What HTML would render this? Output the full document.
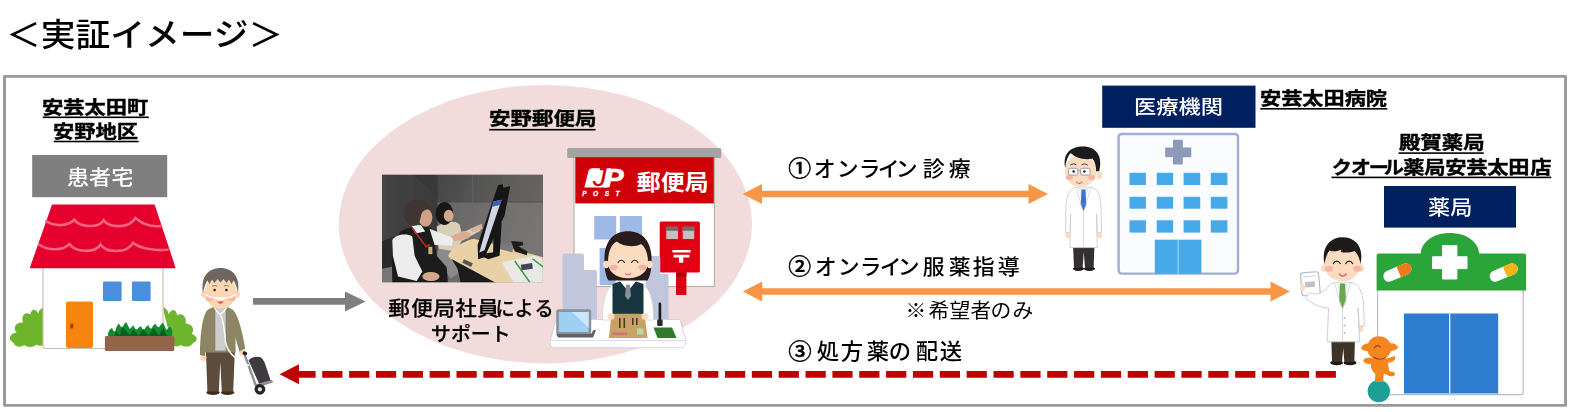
<!DOCTYPE html>
<html lang="ja">
<head>
<meta charset="utf-8">
<title>実証イメージ</title>
<style>
html,body{margin:0;padding:0;background:#fff;}
body{width:1572px;height:412px;overflow:hidden;position:relative;font-family:"Liberation Sans","Noto Sans CJK JP",sans-serif;color:#000;}
#stage{position:absolute;left:0;top:0;width:1572px;height:412px;overflow:hidden;}
#g{position:absolute;left:0;top:0;}
.t{position:absolute;white-space:nowrap;line-height:1;transform-origin:0 0;}
.b{font-weight:bold;-webkit-text-stroke:0.4px #000;}
.w{color:#fff;}
.k{display:inline-block;text-align:center;white-space:pre;transform-origin:50% 50%;}
</style>
</head>
<body>
<div id="stage">
<svg id="g" width="1572" height="412" viewBox="0 0 1572 412">
<!-- frame -->
<rect x="4.500" y="76.400" width="1561" height="329" fill="#fff" stroke="#999" stroke-width="2.900" stroke-linejoin="round"/>
<!-- ellipse -->
<ellipse cx="545.4" cy="224.2" rx="206.6" ry="139.2" fill="#f2dcdb"/>
<!-- arrows -->
<g id="arrows">
<path d="M253 301.400 H346" stroke="#7f7f7f" stroke-width="6.600" fill="none"/>
<path d="M345 291.500 L365.600 301.500 L345 311.500 Z" fill="#7f7f7f"/>
<path d="M761 194 H1029" stroke="#f79646" stroke-width="6.600" fill="none"/>
<path d="M762 184 L742.600 194 L762 204 Z" fill="#f79646"/>
<path d="M1028.500 184 L1048 194 L1028.500 204 Z" fill="#f79646"/>
<path d="M761 291.500 H1271" stroke="#f79646" stroke-width="6.600" fill="none"/>
<path d="M762.200 281.500 L742.800 291.500 L762.200 301.500 Z" fill="#f79646"/>
<path d="M1270.500 281.500 L1290 291.500 L1270.500 301.500 Z" fill="#f79646"/>
<path d="M1335.900 374.300 H298" stroke="#c00000" stroke-width="6.700" stroke-dasharray="20.200 6.650" fill="none"/>
<path d="M299 364.300 L279.500 374.300 L299 384.300 Z" fill="#c00000"/>
</g>
<!-- boxes -->
<rect x="32.200" y="155" width="135" height="42.200" fill="#7f7f7f"/>
<rect x="1102.200" y="85.600" width="153.300" height="42.200" fill="#002060"/>
<rect x="1384" y="186" width="132" height="41.600" fill="#002060"/>
<!-- underlines -->
<g fill="#000">
<rect x="42.700" y="116.500" width="106.100" height="1.600"/>
<rect x="53.800" y="140.700" width="84.800" height="1.600"/>
<rect x="489.200" y="128.900" width="106.400" height="1.600"/>
<rect x="1260.300" y="108" width="127" height="1.600"/>
<rect x="1398.500" y="152.300" width="85.300" height="1.600"/>
<rect x="1331.500" y="176.600" width="219.800" height="1.600"/>
</g>

<g id="house">
<!-- bushes -->
<path d="M43.7 307.3 C41.3 308.5 38.8 309.8 38.3 313.9 C36.4 308.5 31.1 308.1 30.3 314.6 C25.5 311.0 20.6 315.3 23.1 322.6 C17.0 321.9 12.1 326.7 16.5 332.8 C9.7 332.8 7.3 340.1 13.3 342.5 C14.6 346.9 20.6 347.9 24.3 345.0 C27.9 347.9 34.0 347.4 36.4 344.5 C38.8 346.4 41.7 345.9 43.7 345.0 C43.7 332.8 43.7 320.7 43.7 307.3 Z" fill="#6eb42c"/>
<path d="M163.1 307.3 C166.3 308.5 168.0 310.5 168.7 314.6 C171.1 308.5 176.0 308.5 177.2 315.3 C182.0 312.2 186.9 317.0 185.7 323.6 C191.7 323.6 195.4 329.2 191.7 334.0 C197.8 335.7 198.5 341.3 193.0 343.0 C190.5 347.4 184.5 347.4 180.8 345.0 C178.4 346.9 174.8 346.9 172.8 345.0 C169.9 332.8 165.0 320.7 163.1 307.3 Z" fill="#6eb42c"/>
<!-- wall -->
<rect x="43" y="262" width="120" height="86.5" rx="3" fill="#fff" stroke="#cdbfb0" stroke-width="1.2"/>
<!-- roof -->
<path d="M52.6 205.3 H154.1 L174.7 267.6 H30.7 Z" fill="#e6002d" stroke="#e6002d" stroke-width="1.5" stroke-linejoin="round"/>
<path d="M46.4 221.4 C56 227 68 226 74.3 219.8 C79 227 98 229 103.6 220.2 C109 228 129 229 135.5 218 C142 224 152 227 161.3 226" fill="none" stroke="#f2647e" stroke-width="2.6" stroke-linecap="round"/>
<path d="M39 244.5 C48 251 63 251 69.5 244 C75 252 95 254 100.5 244.5 C106 253 127 254 133 242.9 C141 249 156 251 167.5 249.7" fill="none" stroke="#f2647e" stroke-width="2.6" stroke-linecap="round"/>
<!-- windows -->
<rect x="103" y="281.5" width="18.6" height="19.6" rx="1" fill="#4a8fdc"/>
<rect x="132" y="281.5" width="18.6" height="19.6" rx="1" fill="#4a8fdc"/>
<!-- door -->
<rect x="66" y="301.5" width="27" height="46.5" rx="2" fill="#f5850e"/>
<ellipse cx="71.8" cy="326" rx="1.8" ry="2.8" fill="#9b4a1c"/>
<!-- plants -->
<path d="M108.0 337.2 C107.5 332.8 109.2 329.2 112.1 328.0 Q113.6 332.3 115.3 331.4 Q116.5 325.5 118.9 323.6 Q120.9 328.0 122.6 327.0 Q123.8 323.8 126.2 321.9 Q128.2 326.3 129.9 328.9 Q131.1 327.5 133.5 325.5 Q135.4 329.9 137.1 329.4 Q138.3 328.0 140.8 326.0 Q142.7 330.4 144.4 329.4 Q145.6 327.0 148.1 325.0 Q150.0 329.4 151.7 328.4 Q152.9 325.5 155.3 323.6 Q157.3 328.0 159.2 327.0 Q160.7 324.6 163.1 322.6 Q165.0 327.0 166.5 330.1 Q167.5 328.7 169.9 326.7 C172.8 329.2 172.8 334.0 171.8 337.2 Z" fill="#128a2e"/>
<path d="M114.1 337.2 L116.0 330.4 L119.4 335.7 L122.6 326.7 L129.9 335.2 L133.0 329.2 L138.8 335.7 L143.2 329.2 L148.5 335.7 L153.4 328.0 L159.0 335.7 L163.1 327.5 L167.5 337.2 Z" fill="#0a5f20"/>
<rect x="104.9" y="336.0" width="69.4" height="15.0" rx="1.5" fill="#93644a"/>
</g>

<g id="oldman">
<!-- cart -->
<path d="M244.6 354.6 L256 386" stroke="#8e9096" stroke-width="2.4" fill="none" stroke-linecap="round"/>
<path d="M248.6 360.5 C250 357.5 258 355.5 261 357.5 C263 359 264.5 362 265.5 365 L270.8 381 L259.5 384.5 Z" fill="#3e3a3f"/>
<path d="M255.5 384.6 L272 379.8 L273 382.6 L257 387.6 Z" fill="#8e9096"/>
<circle cx="259.9" cy="389.3" r="5.4" fill="#26242a"/>
<circle cx="259.9" cy="389.3" r="2.1" fill="#e6e6e6"/>
<!-- shoes -->
<ellipse cx="213" cy="392.4" rx="6.6" ry="2.5" fill="#3f2d20"/>
<ellipse cx="227.6" cy="392.4" rx="6.6" ry="2.5" fill="#3f2d20"/>
<!-- pants -->
<path d="M205.8 349 H234.9 L233.2 391.6 H221.8 L220.3 362 L218.8 391.6 H207.4 Z" fill="#5d4c3c"/>
<!-- hands -->
<ellipse cx="203.4" cy="357.6" rx="3" ry="3.6" fill="#fbd7b4"/>
<ellipse cx="242.4" cy="352.4" rx="3.3" ry="3.3" fill="#fbd7b4"/>
<rect x="242.6" y="351.6" width="4.6" height="3.6" rx="1.6" fill="#222" transform="rotate(20 244.9 353.4)"/>
<!-- neck -->
<rect x="215" y="303" width="11" height="8" fill="#f6c9a2"/>
<!-- jacket -->
<path d="M206.5 311 C210 307.5 214 307 216 307 L220.5 312 L225 307 C227 307 231 307.5 234 311 C239.500 318 243.500 338 245.200 348.600 L239.600 351.600 L235.400 338 L235.700 352.400 H205 L205.500 338 L205 356 L200 355 C200 340 201.500 319 206.500 311 Z" fill="#8c8664"/>
<!-- shirt -->
<path d="M215 308.500 H226 V350.600 H215 Z" fill="#cdcdcd"/>
<path d="M215 308.500 V350.600 M226 308.500 V350.600" stroke="#7d7759" stroke-width="0.600"/>
<!-- tube -->
<path d="M213 300 C213 308 217 312 220 314.500 C223.500 318 224.500 332 225.500 342 C227.500 353 238 362 249 365.500" fill="none" stroke="#fff" stroke-width="1.400"/>
<path d="M228 300 C228 308 224 312 220 314.500" fill="none" stroke="#fff" stroke-width="1.400"/>
<!-- head -->
<ellipse cx="203.900" cy="294.300" rx="2.700" ry="3.600" fill="#fbd7b4"/>
<ellipse cx="237.100" cy="294.300" rx="2.700" ry="3.600" fill="#fbd7b4"/>
<ellipse cx="220.500" cy="292" rx="15.600" ry="16.800" fill="#fbd7b4"/>
<path d="M203 293 C200.500 277 208 268 220.500 268 C233 268 240.500 277 238 293 C237 287.500 235.500 283 233.500 280.500 L231.500 284 L229 279.500 L226.500 283 L223.500 279 L220.500 282.500 L217.500 279 L214.500 283 L212 279.500 L209.500 284 L207.500 280.500 C205.500 283 204 287.500 203 293 Z" fill="#6f6660"/>
<ellipse cx="209.600" cy="298.600" rx="4.200" ry="3" fill="#f8b9a6"/>
<ellipse cx="231.400" cy="298.600" rx="4.200" ry="3" fill="#f8b9a6"/>
<circle cx="214.600" cy="290" r="1.300" fill="#2a1f1a"/>
<circle cx="226.400" cy="290" r="1.300" fill="#2a1f1a"/>
<path d="M212 286.500 C213.500 285.300 215.800 285.300 217.200 286.300 M223.800 286.300 C225.200 285.300 227.500 285.300 229 286.500" fill="none" stroke="#8a8079" stroke-width="1"/>
<path d="M205.500 294.600 C210 297.500 216 298.300 220.500 298.300 C225 298.300 231 297.500 235.500 294.600" fill="none" stroke="#fff" stroke-width="1.700"/>
<path d="M217 298.800 C219 297.400 222 297.400 224 298.800 L223 300 H218 Z" fill="#fff"/>
<path d="M217.300 301.600 C219 304.600 222 304.600 223.700 301.600 Z" fill="#d4525e"/>
</g>

<g id="photo" transform="translate(378,170) scale(0.28620)">
<defs>
<clipPath id="pc"><rect x="14" y="17" width="562" height="375"/></clipPath>
<linearGradient id="pw1" x1="0" y1="0" x2="1" y2="0"><stop offset="0" stop-color="#454545"/><stop offset="1" stop-color="#3a3a3a"/></linearGradient>
<linearGradient id="pw2" x1="0" y1="0" x2="1" y2="0.35"><stop offset="0" stop-color="#444444"/><stop offset="0.350" stop-color="#555453"/><stop offset="0.700" stop-color="#625f5d"/><stop offset="1" stop-color="#686563"/></linearGradient>
<filter id="pb" x="-5%" y="-5%" width="110%" height="110%"><feGaussianBlur stdDeviation="2.2"/></filter>
</defs>
<rect x="14" y="17" width="562" height="375" fill="#555"/>
<g clip-path="url(#pc)"><g filter="url(#pb)">
<rect x="0" y="0" width="215" height="410" fill="url(#pw1)"/>
<rect x="205" y="0" width="390" height="410" fill="url(#pw2)"/>
<path d="M119 14 L208 14 L208 90 Z" fill="#383838"/>
<path d="M205 17 V260" stroke="#3a3a3a" stroke-width="6"/>
<rect x="208" y="112" width="390" height="300" fill="#8a8888" opacity="0.45"/>
<path d="M208 112 H590" stroke="#4e4c4a" stroke-width="2.500"/>
<path d="M440 17 V120 M330 17 V260" stroke="#6a6a6a" stroke-width="2"/>
<path d="M14 250 L60 230 L60 400 L14 400 Z" fill="#2a2a2a"/>
<path d="M14 345 L60 335 L60 400 L14 400 Z" fill="#777"/>
<!-- person 2 pants -->
<path d="M210 275 L275 282 L300 345 L255 380 L205 310 Z" fill="#8a8a8a"/>
<!-- person2 -->
<path d="M205 198 C230 180 270 175 285 190 L292 218 L352 195 L358 212 L292 248 L272 285 L212 275 Z" fill="#d9cfb8"/>
<ellipse cx="232" cy="152" rx="31" ry="40" fill="#1b1716"/>
<ellipse cx="247" cy="160" rx="17" ry="21" fill="#d3a98e"/>
<path d="M322 205 L362 188 L366 205 L330 218 Z" fill="#d8b49a"/>
<!-- table -->
<path d="M246 298 C248 282 300 246 335 240 L590 308 L590 400 L422 400 L262 314 C250 308 245 304 246 298 Z" fill="#e9d1a6"/>
<path d="M258 312 L422 400 L290 400 L278 345 Z" fill="#1c1c1c"/>
<!-- papers -->
<path d="M432 322 L548 300 L590 318 L590 400 L478 400 Z" fill="#e8e8e4"/>
<path d="M478 318 L530 392 M540 310 L585 345" stroke="#2f9a3c" stroke-width="5"/>
<rect x="500" y="328" width="40" height="20" fill="#445" transform="rotate(-8 520 338)"/>
<rect x="296" y="318" width="34" height="14" fill="#555" transform="rotate(25 313 325)"/>
<!-- gadgets -->
<path d="M424 256 L472 264 L470 288 L424 276 Z" fill="#7a7a7a"/>
<path d="M465 248 L505 252 L508 262 L490 266 L522 285 L520 298 L478 285 Z" fill="#1a1a1a"/>
<!-- monitor -->
<path d="M405 188 L432 184 L425 300 L385 312 L358 300 L378 290 L402 288 Z" fill="#141414"/>
<path d="M412 75 L420 52 L436 50 L438 62 L462 57 L442 160 L372 305 L350 312 L348 262 Z" fill="#161616"/>
<path d="M404 110 L432 104 L372 280 L354 288 Z" fill="#d0d6e6"/>
<path d="M404 110 L432 104 L427 122 L399 128 Z" fill="#3d5fb0"/>
<!-- clerk -->
<path d="M78 215 C110 195 170 192 188 205 L205 300 L240 340 L245 400 L50 400 L48 270 Z" fill="#1a1a1c"/>
<path d="M50 245 C60 225 100 220 120 232 L128 300 L155 355 L135 388 L70 372 L52 300 Z" fill="#ececec"/>
<path d="M180 205 L262 238 L258 265 L198 262 Z" fill="#ececec"/>
<path d="M255 232 L300 212 L325 222 L318 238 L268 250 Z" fill="#d9ab90"/>
<ellipse cx="185" cy="372" rx="30" ry="16" fill="#d6a98e"/>
<path d="M118 195 L150 192 L165 215 L130 222 Z" fill="#eee"/>
<path d="M118 200 L168 268 L182 260" stroke="#c22a2a" stroke-width="5" fill="none"/>
<rect x="176" y="268" width="14" height="26" fill="#c9b26a"/>
<ellipse cx="166" cy="166" rx="24" ry="32" fill="#d2a086"/>
<path d="M90 150 C90 120 115 103 142 105 C170 107 188 125 186 140 C170 135 155 140 150 160 C148 180 140 192 125 195 C105 192 90 175 90 150 Z" fill="#3f3531"/>
</g></g>
</g>

<g id="post">
<!-- wall -->
<rect x="574" y="156" width="140.5" height="130.5" fill="#fff" stroke="#b9b2aa" stroke-width="1.2"/>
<!-- roof -->
<rect x="567.2" y="148" width="154" height="10" rx="1.5" fill="#a3a3a3"/>
<!-- sign -->
<rect x="575.3" y="157.2" width="138.5" height="46.2" fill="#cf0008"/>
<!-- logo -->
<path d="M592.600 168.300 H611 L607.200 187.400 H584.400 L588.300 171.400 C588.900 169.300 590.400 168.300 592.600 168.300 Z" fill="#fff"/>
<text x="592.900" y="185.700" font-family="'Liberation Sans',sans-serif" font-size="25.600" font-style="italic" fill="#cf0008" stroke="#cf0008" stroke-width="0.300" textLength="13.400" lengthAdjust="spacingAndGlyphs">J</text>
<text x="604.500" y="187.440" font-family="'Liberation Sans',sans-serif" font-size="26.200" font-weight="bold" font-style="italic" fill="#fff" stroke="#fff" stroke-width="0.700" textLength="19" lengthAdjust="spacingAndGlyphs">P</text>
<text x="582.2" y="195.77" font-family="'Liberation Sans',sans-serif" font-size="6.6" font-weight="bold" font-style="italic" fill="#fff" stroke="#fff" stroke-width="0.3" letter-spacing="6.5">POST</text>
<text x="636.8" y="190.3" font-family="'Liberation Sans','Noto Sans CJK JP',sans-serif" font-size="22" font-weight="bold" fill="#fff" textLength="71.8" lengthAdjust="spacingAndGlyphs">郵便局</text>
<!-- windows -->
<rect x="594.2" y="216" width="22" height="23.5" fill="#9fb9e6"/>
<rect x="619.8" y="216" width="22.2" height="23.5" fill="#9fb9e6"/>
<rect x="599.6" y="248" width="16" height="37" fill="#9fb9e6"/>
<!-- mailbox -->
<rect x="676" y="270" width="10.4" height="25" rx="1" fill="#d9000f"/>
<rect x="676" y="272.5" width="10.4" height="4" fill="#a8000c"/>
<rect x="659.7" y="221.5" width="40.2" height="51" rx="1.5" fill="#e00012"/>
<rect x="666.3" y="226.8" width="11.7" height="12.2" fill="#c4c0c0"/>
<rect x="682.7" y="226.8" width="11.5" height="12.2" fill="#c4c0c0"/>
<rect x="666.3" y="226.8" width="11.7" height="4" fill="#6e6a6a"/>
<rect x="682.7" y="226.8" width="11.5" height="4" fill="#6e6a6a"/>
<path d="M672.4 250 H690.6 V252.6 H672.4 Z M673.6 254.8 H689.4 V257.6 H683.3 V262.8 H679 V257.6 H673.6 Z" fill="#fff"/>
<!-- silhouettes -->
<path d="M562.5 320 V255.5 C562.5 254 563.5 253.5 565 253.5 H582 C583.5 253.5 584 254.5 584 256 V270 H595 C596.5 270 597 271 597 272.5 V320 Z" fill="#c2c6dd"/>
<path d="M646 320 V258 C646 256.5 647 256 648.5 256 H658.5 C660 256 660.3 257 660.3 258.5 V274 H666.5 C668 274 668.6 275 668.6 276.5 V320 Z" fill="#c2c6dd"/>
<!-- desk -->
<path d="M556 319.5 H680 L685.8 340 C686.4 344 685 347.8 681 347.8 H554.5 C550.5 347.8 549.6 344 550.4 340 Z" fill="#fff" stroke="#d0d4dc" stroke-width="1"/>
<path d="M551 340.5 H685.5" stroke="#d8dce4" stroke-width="1"/>
<!-- clerk body -->
<path d="M602.5 320 C602.5 300 606 287 616 283 H640 C650 287 653.5 300 653.5 320 Z" fill="#fff" stroke="#d5d5d5" stroke-width="0.8"/>
<path d="M612.5 284 L620 281.5 L628 290 L636 281.5 L643.5 284 L643.5 314 H612.5 Z" fill="#17343f"/>
<path d="M620.5 281.5 L628 279 L635.5 281.5 L628 291 Z" fill="#fff"/>
<path d="M626.2 284.5 H629.8 L631 296 L628 300 L625 296 Z" fill="#8a8f99"/>
<!-- clipboard -->
<path d="M611.5 313.7 H644.5 L647.6 338 H608.8 Z" fill="#c9a365"/>
<g fill="#4a3a22"><rect x="619" y="318" width="1.6" height="10"/><rect x="623.5" y="318" width="1.6" height="10"/><rect x="632" y="318" width="1.6" height="7"/><rect x="636" y="318" width="1.6" height="7"/></g>
<rect x="612" y="332.5" width="15" height="2.6" fill="#c77"/>
<rect x="637" y="328.5" width="6.5" height="6" fill="#b9d9a2"/>
<ellipse cx="611" cy="316.5" rx="3.6" ry="3.2" fill="#fbdcc0"/>
<ellipse cx="645" cy="316.5" rx="3.6" ry="3.2" fill="#fbdcc0"/>
<!-- pen -->
<rect x="658.6" y="302.5" width="2.6" height="20" rx="1.2" fill="#1a1a1a"/>
<rect x="657.2" y="319.5" width="5.4" height="6.5" rx="1" fill="#2a2a2a"/>
<path d="M653.5 327.5 H672 L676.6 338 H657.5 Z" fill="#2f7a2b"/>
<!-- laptop -->
<path d="M556.2 311.5 C556.2 310 557 309.3 558.5 309.3 H589 C590.5 309.3 591.2 310 591.2 311.5 V334 H556.2 Z" fill="#8b9198"/>
<rect x="558.8" y="312" width="29.8" height="20" fill="#9fd0f2"/>
<path d="M572 312 H588.6 V328 Z" fill="#c9e6fa"/>
<path d="M556.2 334 H591.2 L593.5 330 L596 330 L593 337.6 H558 Z" fill="#5d6268"/>
<!-- head -->
<path d="M604.5 262 C603.5 242 613 231.2 628 231.2 C643 231.2 652.5 242 651.5 262 C651.5 270 650 277 647.5 280.5 H608.5 C606 277 604.5 270 604.5 262 Z" fill="#2a1c1c"/>
<ellipse cx="606.2" cy="264.5" rx="3" ry="3.8" fill="#fbdcc0"/>
<ellipse cx="649.8" cy="264.5" rx="3" ry="3.8" fill="#fbdcc0"/>
<path d="M608 262 C608 251 612 243.5 617 241.5 C622 246 634 248 641 244 C645.5 247 648 254 648 262 C648 272 640 278.2 628 278.2 C616 278.2 608 272 608 262 Z" fill="#fbdcc0"/>
<ellipse cx="613.5" cy="267.5" rx="4" ry="2.8" fill="#f7b0a4"/>
<ellipse cx="642.5" cy="267.5" rx="4" ry="2.8" fill="#f7b0a4"/>
<path d="M618 262.5 C619.5 259.5 623 259.5 624.5 262.5 M631.5 262.5 C633 259.5 636.5 259.5 638 262.5" fill="none" stroke="#2a1c1c" stroke-width="1.1" stroke-linecap="round"/>
<path d="M625.6 273.5 C627 275.4 629.4 275.4 630.6 273.5" fill="none" stroke="#e0607a" stroke-width="1.2" stroke-linecap="round"/>
</g>

<g id="doctor">
<!-- shoes -->
<ellipse cx="1078.5" cy="268.8" rx="5.6" ry="2.2" fill="#1a1a1a"/>
<ellipse cx="1089.5" cy="268.8" rx="5.6" ry="2.2" fill="#1a1a1a"/>
<!-- pants -->
<path d="M1073 244 H1094.5 L1093.6 268 H1085 L1083.8 252 L1082.6 268 H1074 Z" fill="#33302f"/>
<!-- hands -->
<ellipse cx="1067.6" cy="235.5" rx="2.4" ry="3" fill="#fbdcc0"/>
<ellipse cx="1099.6" cy="235.5" rx="2.4" ry="3" fill="#fbdcc0"/>
<!-- coat -->
<path d="M1072.5 188.5 C1076 186.5 1091 186.5 1094.5 188.5 C1098.5 190.5 1100.5 198 1101 206 L1101.6 232.5 L1097.2 233 L1096.6 214 L1097.2 247.6 H1070 L1070.6 214 L1070 233 L1065.6 232.5 L1066 206 C1066.5 198 1068.5 190.5 1072.5 188.5 Z" fill="#fff" stroke="#c9cdd4" stroke-width="0.9" stroke-linejoin="round"/>
<path d="M1078.5 188 L1083.5 211 L1088.5 188 Z" fill="#e8eef6"/>
<path d="M1081.6 189.5 H1085.4 L1086.4 205 L1083.5 211 L1080.6 205 Z" fill="#3b74c9"/>
<path d="M1076.5 188.5 L1083.5 213 L1083.5 247" fill="none" stroke="#c9cdd4" stroke-width="0.7"/>
<path d="M1090.5 188.5 L1083.5 213" fill="none" stroke="#c9cdd4" stroke-width="0.7"/>
<!-- head -->
<ellipse cx="1099.400" cy="175.400" rx="2.900" ry="3.800" fill="#fbdcc0"/>
<ellipse cx="1080.600" cy="171" rx="15.800" ry="15.800" fill="#fbdcc0"/>
<path d="M1065.200 168 C1062.500 154 1070 146.600 1083 146.600 C1096.500 146.600 1103 156.500 1099.300 171 L1096.200 171.400 C1096.200 166 1094.800 161.500 1092.500 158.500 C1085 160.500 1075.500 158 1070.500 153 C1067.500 156.500 1065.800 161.500 1065.200 168 Z" fill="#1d1a1a"/>
<ellipse cx="1069.400" cy="177.600" rx="3.600" ry="2.600" fill="#f9b4a6"/>
<ellipse cx="1091.600" cy="177.600" rx="3.600" ry="2.600" fill="#f9b4a6"/>
<rect x="1068.600" y="168.300" width="9.200" height="6.700" rx="1.200" fill="#fff" stroke="#8a8a90" stroke-width="0.800"/>
<rect x="1080.600" y="168.300" width="9.400" height="6.700" rx="1.200" fill="#fff" stroke="#8a8a90" stroke-width="0.800"/>
<path d="M1077.800 170.600 H1080.600" stroke="#8a8a90" stroke-width="0.800"/>
<circle cx="1073.600" cy="171.500" r="1.200" fill="#222"/>
<circle cx="1084.400" cy="171.500" r="1.200" fill="#222"/>
<path d="M1070.500 165 C1072 163.600 1074.500 163.600 1076 164.600 M1082 164.600 C1083.500 163.600 1086 163.600 1087.500 165" fill="none" stroke="#2a2222" stroke-width="0.900" stroke-linecap="round"/>
<path d="M1076.600 182 C1078 184 1080.600 184 1081.800 182" fill="none" stroke="#d45c6a" stroke-width="1.100" stroke-linecap="round"/>
</g>

<g id="hospital">
<rect x="1118.6" y="134" width="119.4" height="139.6" rx="3" fill="#fbfcfe" stroke="#a2aed0" stroke-width="2.4"/>
<path d="M1173 139.8 H1182.8 V147.5 H1191.3 V157.3 H1182.8 V164.6 H1173 V157.3 H1165.2 V147.5 H1173 Z" fill="#8d99ba"/>
<g fill="#47a9e8">
<rect x="1129.5" y="172.8" width="16.4" height="12.2"/><rect x="1156.7" y="172.8" width="16.4" height="12.2"/><rect x="1183.6" y="172.8" width="16.6" height="12.2"/><rect x="1210.8" y="172.8" width="16.6" height="12.2"/>
<rect x="1129.5" y="196.8" width="16.4" height="11.9"/><rect x="1156.7" y="196.8" width="16.4" height="11.9"/><rect x="1183.6" y="196.8" width="16.6" height="11.9"/><rect x="1210.8" y="196.8" width="16.6" height="11.9"/>
<rect x="1129.5" y="220.3" width="16.4" height="12.3"/><rect x="1156.7" y="220.3" width="16.4" height="12.3"/><rect x="1183.6" y="220.3" width="16.6" height="12.3"/><rect x="1210.8" y="220.3" width="16.6" height="12.3"/>
<rect x="1154.8" y="239.7" width="46.6" height="34"/>
</g>
<path d="M1178.1 239.7 V273.7" stroke="#a9dcf8" stroke-width="1"/>
</g>

<g id="pharmacist">
<!-- shoes -->
<ellipse cx="1336.600" cy="362.800" rx="6.400" ry="2.400" fill="#1a1a1a"/>
<ellipse cx="1350" cy="362.800" rx="6.400" ry="2.400" fill="#1a1a1a"/>
<!-- pants -->
<path d="M1331.300 339 H1355 L1354.300 362 H1344.400 L1343.200 348 L1342 362 H1332 Z" fill="#3f3327"/>
<!-- bag -->
<g transform="rotate(-5 1310 283.500)">
<path d="M1301.400 274.400 C1301.400 273 1302.400 272.300 1303.900 272.300 H1316.600 C1318.400 272.300 1319.400 273.500 1319.400 275 V292.600 C1319.400 294.400 1318.200 295.200 1316.600 295.200 H1303.400 C1301.900 295.200 1301.100 294.200 1301.100 292.600 Z" fill="#fff" stroke="#b4b6c4" stroke-width="1.100"/>
<rect x="1305.200" y="281.600" width="9.600" height="5.600" fill="#bfbfc4"/>
<path d="M1304 276.400 H1317" stroke="#c9cbd6" stroke-width="0.900"/>
</g>
<!-- hands -->
<ellipse cx="1302.400" cy="287.500" rx="2.600" ry="3.600" fill="#fbdcc0"/>
<ellipse cx="1360.600" cy="328.500" rx="2.800" ry="3.600" fill="#fbdcc0"/>
<!-- coat -->
<path d="M1330.500 284 C1334.500 281.500 1351 281.500 1355.500 284 C1360.500 287 1363 296 1363.600 305 L1364.400 325.500 L1359.200 326.500 L1358 308 L1359.600 341.800 H1327.200 L1328.600 308 C1321 308 1311 303.500 1305.500 297.500 L1310 292.500 C1315 296 1323 294 1330.500 284 Z" fill="#fff" stroke="#c3c8d6" stroke-width="0.900" stroke-linejoin="round"/>
<path d="M1336.500 282.500 L1342.500 306 L1348.500 282.500 Z" fill="#eef3e8"/>
<path d="M1340 283.600 H1345 L1346.200 301 L1342.500 308.500 L1339 301 Z" fill="#6aa84f"/>
<path d="M1334.500 283 L1342.500 310 V341" fill="none" stroke="#c3c8d6" stroke-width="0.700"/>
<path d="M1350.500 283 L1342.500 310" fill="none" stroke="#c3c8d6" stroke-width="0.700"/>
<circle cx="1344.500" cy="318" r="1" fill="#b0b8c8"/><circle cx="1344.500" cy="325.500" r="1" fill="#b0b8c8"/><circle cx="1344.500" cy="333" r="1" fill="#b0b8c8"/>
<!-- head -->
<ellipse cx="1323.800" cy="268.200" rx="2.800" ry="3.600" fill="#fbdcc0"/>
<ellipse cx="1361.200" cy="268.200" rx="2.800" ry="3.600" fill="#fbdcc0"/>
<ellipse cx="1342.500" cy="264.200" rx="18.400" ry="17" fill="#fbdcc0"/>
<path d="M1324.500 264 C1321 248 1329.500 237.300 1342.500 237.300 C1356.500 237.300 1364 248 1360.500 264 C1359.500 258 1357.500 253.500 1354.500 251 C1350 252.800 1345 253 1340.500 252 L1341.500 249.500 C1337 251.500 1332.500 252 1329.500 250.500 C1327 254 1325.300 258.500 1324.500 264 Z" fill="#1d1a1a"/>
<ellipse cx="1328.900" cy="268.800" rx="4.200" ry="3" fill="#f9b4a6"/>
<ellipse cx="1357.400" cy="268.800" rx="4.200" ry="3" fill="#f9b4a6"/>
<path d="M1333.300 263.600 C1335 260.400 1338.600 260.400 1340.200 263.600 M1345.800 263.600 C1347.400 260.400 1351 260.400 1352.600 263.600" fill="none" stroke="#2a1c1c" stroke-width="1.200" stroke-linecap="round"/>
<path d="M1339.300 274 C1341 276.800 1344.600 276.800 1346.200 274" fill="none" stroke="#d9485a" stroke-width="1.300" stroke-linecap="round"/>
</g>

<g id="pharmacy">
<rect x="1377.6" y="285" width="145.6" height="109.6" rx="2" fill="#fff" stroke="#b9bccd" stroke-width="1.2"/>
<path d="M1376.6 255.6 C1376.6 254.2 1377.5 253.4 1379 253.4 H1420.700 C1421.500 241.500 1434 232.900 1449.950 232.900 C1466 232.900 1478.400 241.500 1479.200 253.400 H1523.800 C1525.300 253.400 1526.100 254.200 1526.100 255.800 V290.600 H1376.600 Z" fill="#2ba53a"/>
<path d="M1442.500 245.500 H1456.900 V256.800 H1467 V268.600 H1456.900 V279 H1442.500 V268.600 H1432.600 V256.800 H1442.500 Z" fill="#fff" stroke="#fff" stroke-width="1" stroke-linejoin="round"/>
<g transform="rotate(-23 1397.4 272.6)"><rect x="1382.6" y="267.0" width="29.6" height="11.2" rx="5.6" fill="#fff"/><path d="M1398.9 267.0 H1406.6 A5.6 5.6 0 0 1 1406.6 278.2 H1398.9 Z" fill="#f0791c"/></g>
<g transform="rotate(-23 1503.7 272.6)"><rect x="1488.9" y="267.0" width="29.6" height="11.2" rx="5.6" fill="#fff"/><path d="M1505.2 267.0 H1512.9 A5.6 5.6 0 0 1 1512.9 278.2 H1505.2 Z" fill="#f9b21c"/></g>
<rect x="1404" y="313.5" width="94.2" height="80" fill="#2e7dd1"/>
<path d="M1449.7 313.5 V393.5" stroke="#e8f0fa" stroke-width="1.3"/>
<!-- mascot -->
<circle cx="1378.8" cy="391.1" r="11.2" fill="#1c9f97"/>
<path d="M1378.8 336.3 C1383.8 336.3 1388.5 339.1 1390.5 343.6 C1393.3 342.5 1396.6 344.7 1398.3 347.5 C1396.1 350.3 1392.7 350.9 1390.8 350.9 C1389.9 354.8 1386.6 358.1 1383.2 359.0 C1387.1 358.7 1392.2 356.4 1394.9 355.9 C1396.1 358.1 1394.4 360.9 1391.6 362.0 L1387.7 363.1 C1388.8 367.1 1388.8 370.4 1389.9 371.5 C1392.7 371.0 1395.5 372.6 1394.9 374.9 C1392.7 377.1 1388.8 376.5 1386.0 374.3 L1383.8 373.8 L1383.2 382.1 L1374.8 382.1 L1375.4 373.8 C1372.1 371.5 1370.4 367.6 1370.9 363.7 C1368.1 364.8 1364.2 363.1 1363.1 360.4 C1364.8 357.6 1369.3 357.0 1372.1 358.1 L1374.8 358.7 C1370.9 357.6 1368.1 354.2 1367.6 350.9 C1365.4 351.4 1362.0 350.3 1360.9 348.1 C1362.6 344.7 1365.9 343.0 1368.1 343.6 C1369.8 339.1 1374.0 336.3 1378.8 336.3 Z" fill="#f5861f"/>
<path d="M1374.3 348.1 C1375.4 345.3 1378.8 344.7 1380.4 347.0 M1373.7 357.0 C1377.1 359.8 1382.1 359.8 1385.5 357.6" fill="none" stroke="#9a4a12" stroke-width="1.1" stroke-linecap="round"/>
</g>

</svg>
<div class="t" id="t1" style="left:6.0px;top:19px;font-size:32.19px;transform:scaleX(1.0797);font-weight:500;">＜実証イメージ＞</div>
<div class="t b" id="t2" style="left:41.5px;top:99px;font-size:18.01px;transform:scaleX(1.1811);">安芸太田町</div>
<div class="t b" id="t3" style="left:53.0px;top:123px;font-size:18.42px;transform:scaleX(1.1565);">安野地区</div>
<div class="t w" id="t4" style="left:66.5px;top:169px;font-size:19.9px;transform:scaleX(1.11);font-weight:500;">患者宅</div>
<div class="t b" id="t5" style="left:489.0px;top:110px;font-size:18.32px;transform:scaleX(1.1735);">安野郵便局</div>
<div class="t" id="t6" style="left:386.17px;top:299px;font-size:20.21px;font-weight:500;-webkit-text-stroke:0.25px #000;"><span class="k" style="width:26.27px;transform:scaleX(1.07);">郵</span><span class="k" style="width:26.27px;margin-left:-2.97px;transform:scaleX(1.07);">便</span><span class="k" style="width:26.27px;margin-left:-4.47px;transform:scaleX(1.07);">局</span><span class="k" style="width:26.27px;margin-left:-4.37px;transform:scaleX(1.07);">社</span><span class="k" style="width:26.27px;margin-left:-4.47px;transform:scaleX(1.07);">員</span><span class="k" style="width:26.27px;margin-left:-9.17px;transform:scaleX(0.95);">に</span><span class="k" style="width:26.27px;margin-left:-7.67px;transform:scaleX(0.95);">よ</span><span class="k" style="width:26.27px;margin-left:-6.27px;transform:scaleX(0.95);">る</span></div>
<div class="t" id="t7" style="left:431.0px;top:325px;font-size:19.39px;transform:scaleX(1.0259);font-weight:500;-webkit-text-stroke:0.25px #000;">サポート</div>
<div class="t" id="t8" style="left:786.0px;top:158px;font-size:21px;font-weight:500;"><span class="k" style="width:27.3px;transform:scale(1.09,1.03);font-weight:500;-webkit-text-stroke:0.45px #000;position:relative;top:-0.4px;">①</span><span class="k" style="width:27.3px;margin-left:-2.15px;transform:scaleX(1.04);">オ</span><span class="k" style="width:27.3px;margin-left:-4.35px;transform:scaleX(1.04);">ン</span><span class="k" style="width:27.3px;margin-left:-5.15px;transform:scaleX(1.04);">ラ</span><span class="k" style="width:27.3px;margin-left:-9.05px;transform:scaleX(1.04);">イ</span><span class="k" style="width:27.3px;margin-left:-8.35px;transform:scaleX(1.04);">ン</span><span class="k" style="width:27.3px;margin-left:-15.4px;transform:scaleX(1.04);"> </span><span class="k" style="width:27.3px;margin-left:-12.6px;transform:scaleX(1.04);">診</span><span class="k" style="width:27.3px;margin-left:-1.1px;transform:scaleX(1.04);">療</span></div>
<div class="t" id="t9" style="left:786.05px;top:256px;font-size:21px;font-weight:500;"><span class="k" style="width:27.3px;transform:scale(1.09,1.03);font-weight:500;-webkit-text-stroke:0.45px #000;position:relative;top:-0.4px;">②</span><span class="k" style="width:27.3px;margin-left:-1.55px;transform:scaleX(1.04);">オ</span><span class="k" style="width:27.3px;margin-left:-3.9px;transform:scaleX(1.04);">ン</span><span class="k" style="width:27.3px;margin-left:-5.05px;transform:scaleX(1.04);">ラ</span><span class="k" style="width:27.3px;margin-left:-8.2px;transform:scaleX(1.04);">イ</span><span class="k" style="width:27.3px;margin-left:-9.0px;transform:scaleX(1.04);">ン</span><span class="k" style="width:27.3px;margin-left:-16.3px;transform:scaleX(1.04);"> </span><span class="k" style="width:27.3px;margin-left:-12.95px;transform:scaleX(1.04);">服</span><span class="k" style="width:27.3px;margin-left:-2.0px;transform:scaleX(1.04);">薬</span><span class="k" style="width:27.3px;margin-left:-2.55px;transform:scaleX(1.04);">指</span><span class="k" style="width:27.3px;margin-left:-2.1px;transform:scaleX(1.04);">導</span></div>
<div class="t" id="t10" style="left:903.45px;top:301px;font-size:20px;"><span class="k" style="width:26.0px;transform:scaleX(1.04);">※</span><span class="k" style="width:26.0px;margin-left:-3.2px;transform:scaleX(1.04);">希</span><span class="k" style="width:26.0px;margin-left:-5.15px;transform:scaleX(1.04);">望</span><span class="k" style="width:26.0px;margin-left:-5.1px;transform:scaleX(1.04);">者</span><span class="k" style="width:26.0px;margin-left:-5.7px;transform:scaleX(1.04);">の</span><span class="k" style="width:26.0px;margin-left:-4.6px;transform:scaleX(1.04);">み</span></div>
<div class="t" id="t11" style="left:785.67px;top:342px;font-size:21.5px;font-weight:500;"><span class="k" style="width:27.95px;transform:scale(1.09,1.03);font-weight:500;-webkit-text-stroke:0.45px #000;position:relative;top:-0.4px;">③</span><span class="k" style="width:27.95px;margin-left:-14.1px;transform:scaleX(1.04);"> </span><span class="k" style="width:27.95px;margin-left:-13.95px;transform:scaleX(1.04);">処</span><span class="k" style="width:27.95px;margin-left:-3.35px;transform:scaleX(1.04);">方</span><span class="k" style="width:27.95px;margin-left:-2.45px;transform:scaleX(1.04);">薬</span><span class="k" style="width:27.95px;margin-left:-5.05px;transform:scaleX(1.04);">の</span><span class="k" style="width:27.95px;margin-left:-1.35px;transform:scaleX(1.04);">配</span><span class="k" style="width:27.95px;margin-left:-3.55px;transform:scaleX(1.04);">送</span></div>
<div class="t w" id="t12" style="left:1133.5px;top:98px;font-size:19.35px;transform:scaleX(1.1507);font-weight:500;">医療機関</div>
<div class="t b" id="t13" style="left:1259.5px;top:90px;font-size:18.01px;transform:scaleX(1.1756);">安芸太田病院</div>
<div class="t b" id="t14" style="left:1398.5px;top:134.0px;font-size:18.38px;transform:scaleX(1.1674);">殿賀薬局</div>
<div class="t b" id="t15" style="left:1329.74px;top:159px;font-size:18.33px;"><span class="k" style="width:23.83px;transform:scaleX(1.102);">ク</span><span class="k" style="width:23.83px;margin-left:-4.98px;transform:scaleX(1.102);">オ</span><span class="k" style="width:23.83px;margin-left:-5.83px;transform:scaleX(1.102);">ー</span><span class="k" style="width:23.83px;margin-left:-8.93px;transform:scaleX(1.102);">ル</span><span class="k" style="width:23.83px;margin-left:-3.43px;transform:scaleX(1.163);">薬</span><span class="k" style="width:23.83px;margin-left:-2.73px;transform:scaleX(1.163);">局</span><span class="k" style="width:23.83px;margin-left:-2.73px;transform:scaleX(1.163);">安</span><span class="k" style="width:23.83px;margin-left:-2.73px;transform:scaleX(1.163);">芸</span><span class="k" style="width:23.83px;margin-left:-2.73px;transform:scaleX(1.163);">太</span><span class="k" style="width:23.83px;margin-left:-2.73px;transform:scaleX(1.163);">田</span><span class="k" style="width:23.83px;margin-left:-2.73px;transform:scaleX(1.163);">店</span></div>
<div class="t w" id="t16" style="left:1427.5px;top:198px;font-size:20.14px;transform:scaleX(1.0994);font-weight:500;">薬局</div>
</div>
</body>
</html>
